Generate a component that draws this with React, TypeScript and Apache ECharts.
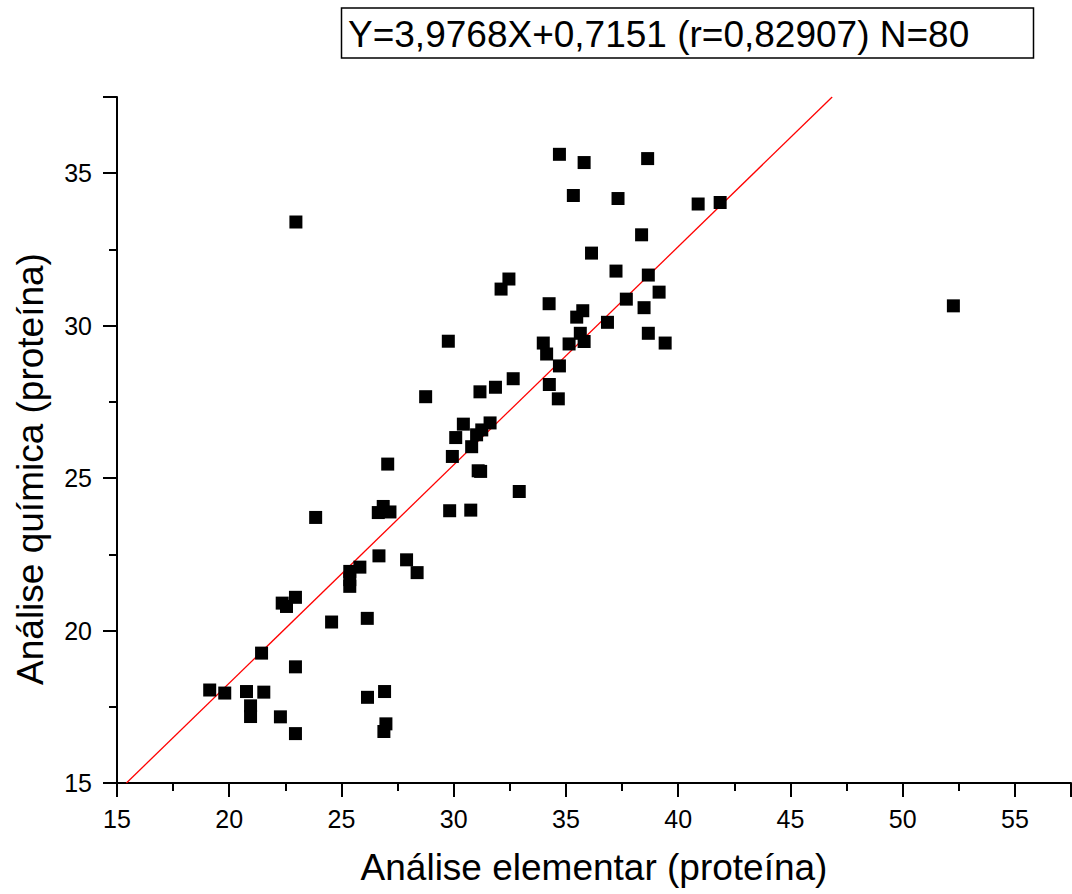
import React, { useEffect, useRef } from "react";
import * as echarts from "echarts";

const elementar: number[] = [
  19.13, 19.80, 20.77, 21.54, 20.95, 20.95, 21.44, 22.28, 22.95, 22.95,
  22.36, 22.55, 22.95, 22.97, 23.85, 24.56, 25.37, 25.37, 25.37, 25.82,
  26.15, 26.16, 26.92, 26.98, 26.89, 26.67, 26.64, 26.86, 27.16, 27.06,
  27.90, 28.37, 28.75, 29.76, 29.94, 29.82, 30.09, 30.43, 30.80, 30.76,
  31.02, 31.25, 31.09, 31.17, 31.62, 31.86, 32.11, 32.46, 32.65, 32.92,
  33.99, 34.14, 34.25, 34.26, 34.66, 34.71, 34.71, 35.33, 35.14, 35.48,
  35.64, 35.75, 35.81, 35.81, 36.14, 36.85, 37.32, 37.23, 37.69, 38.37,
  38.48, 38.64, 38.67, 38.67, 39.15, 39.42, 40.89, 41.87, 52.26, 31.20,
];

const quimica: number[] = [
  18.05, 17.95, 18.00, 17.98, 17.53, 17.18, 19.26, 17.17, 16.62, 18.81,
  20.90, 20.79, 21.09, 33.40, 23.71, 20.28, 21.94, 21.67, 21.45, 22.08,
  20.40, 17.81, 18.00, 16.94, 16.69, 22.45, 23.87, 24.07, 23.89, 25.46,
  22.32, 21.90, 27.67, 29.49, 25.71, 23.93, 26.33, 26.77, 26.03, 23.95,
  26.42, 26.58, 25.24, 27.83, 26.81, 27.98, 31.20, 31.53, 28.26, 24.56,
  29.43, 29.07, 30.72, 28.07, 27.60, 28.68, 35.62, 34.27, 29.40, 30.28,
  29.75, 30.49, 35.35, 29.48, 32.38, 30.11, 34.17, 31.79, 30.87, 32.98,
  30.59, 35.48, 31.66, 29.75, 31.10, 29.43, 33.99, 34.04, 30.65, 25.22,
];

const fitX: number[] = [15.42, 46.86];
const fitY: number[] = [15, 37.5];

const titleText = "Y=3,9768X+0,7151 (r=0,82907) N=80";
const xName = "Análise elementar (proteína)";
const yName = "Análise química (proteína)";

const FONT = "'Liberation Sans', Arial, sans-serif";

export default function App() {
  const ref = useRef<HTMLDivElement>(null);

  useEffect(() => {
    if (!ref.current) return;
    const chart = echarts.init(ref.current, undefined, { renderer: "svg" });
    const points = elementar.map((x, i) => [x, quimica[i]]);
    const line = fitX.map((x, i) => [x, fitY[i]]);

    const axisCommon = {
      type: "value" as const,
      interval: 5,
      splitLine: { show: false },
      axisLine: { show: true, lineStyle: { color: "#000", width: 2 } },
      axisTick: { show: true, inside: false, length: 14, lineStyle: { color: "#000", width: 2 } },
      minorTick: { show: true, splitNumber: 2, length: 8, lineStyle: { color: "#000", width: 2 } },
    };

    chart.setOption({
      animation: false,
      backgroundColor: "#fff",
      grid: { left: 117, top: 97, right: 1, bottom: 111, containLabel: false },
      xAxis: {
        ...axisCommon,
        min: 15,
        max: 57.5,
        name: xName,
        nameLocation: "middle",
        nameGap: 66,
        nameTextStyle: { fontFamily: FONT, fontSize: 37, color: "#000" },
        axisLabel: { fontFamily: FONT, fontSize: 25, color: "#000", margin: 23, showMaxLabel: false },
      },
      yAxis: {
        ...axisCommon,
        min: 15,
        max: 37.5,
        axisLabel: { fontFamily: FONT, fontSize: 25, color: "#000", margin: 25, showMaxLabel: false },
      },
      series: [
        {
          type: "line",
          data: line,
          showSymbol: false,
          symbol: "none",
          lineStyle: { color: "#ff0000", width: 1.3 },
          z: 3,
        },
        {
          type: "scatter",
          data: points,
          symbol: "rect",
          symbolSize: 13,
          itemStyle: { color: "#000", opacity: 1 },
          z: 4,
        },
      ],
      graphic: [
        {
          type: "rect",
          shape: { x: 341.5, y: 8, width: 692, height: 50 },
          style: { fill: "#fff", stroke: "#000", lineWidth: 1.5 },
        },
        {
          type: "text",
          x: 348,
          y: 34,
          style: {
            text: titleText,
            fontFamily: FONT,
            fontSize: 37,
            fill: "#000",
            verticalAlign: "middle",
            align: "left",
          },
        },
        {
          type: "text",
          x: 30,
          y: 469,
          rotation: Math.PI / 2,
          style: {
            text: yName,
            fontFamily: FONT,
            fontSize: 37,
            fill: "#000",
            verticalAlign: "middle",
            align: "center",
          },
        },
      ],
    });

    return () => chart.dispose();
  }, []);

  return (
    <div
      ref={ref}
      style={{ position: "fixed", left: 0, top: 0, width: 1072, height: 894, background: "#fff" }}
    />
  );
}
